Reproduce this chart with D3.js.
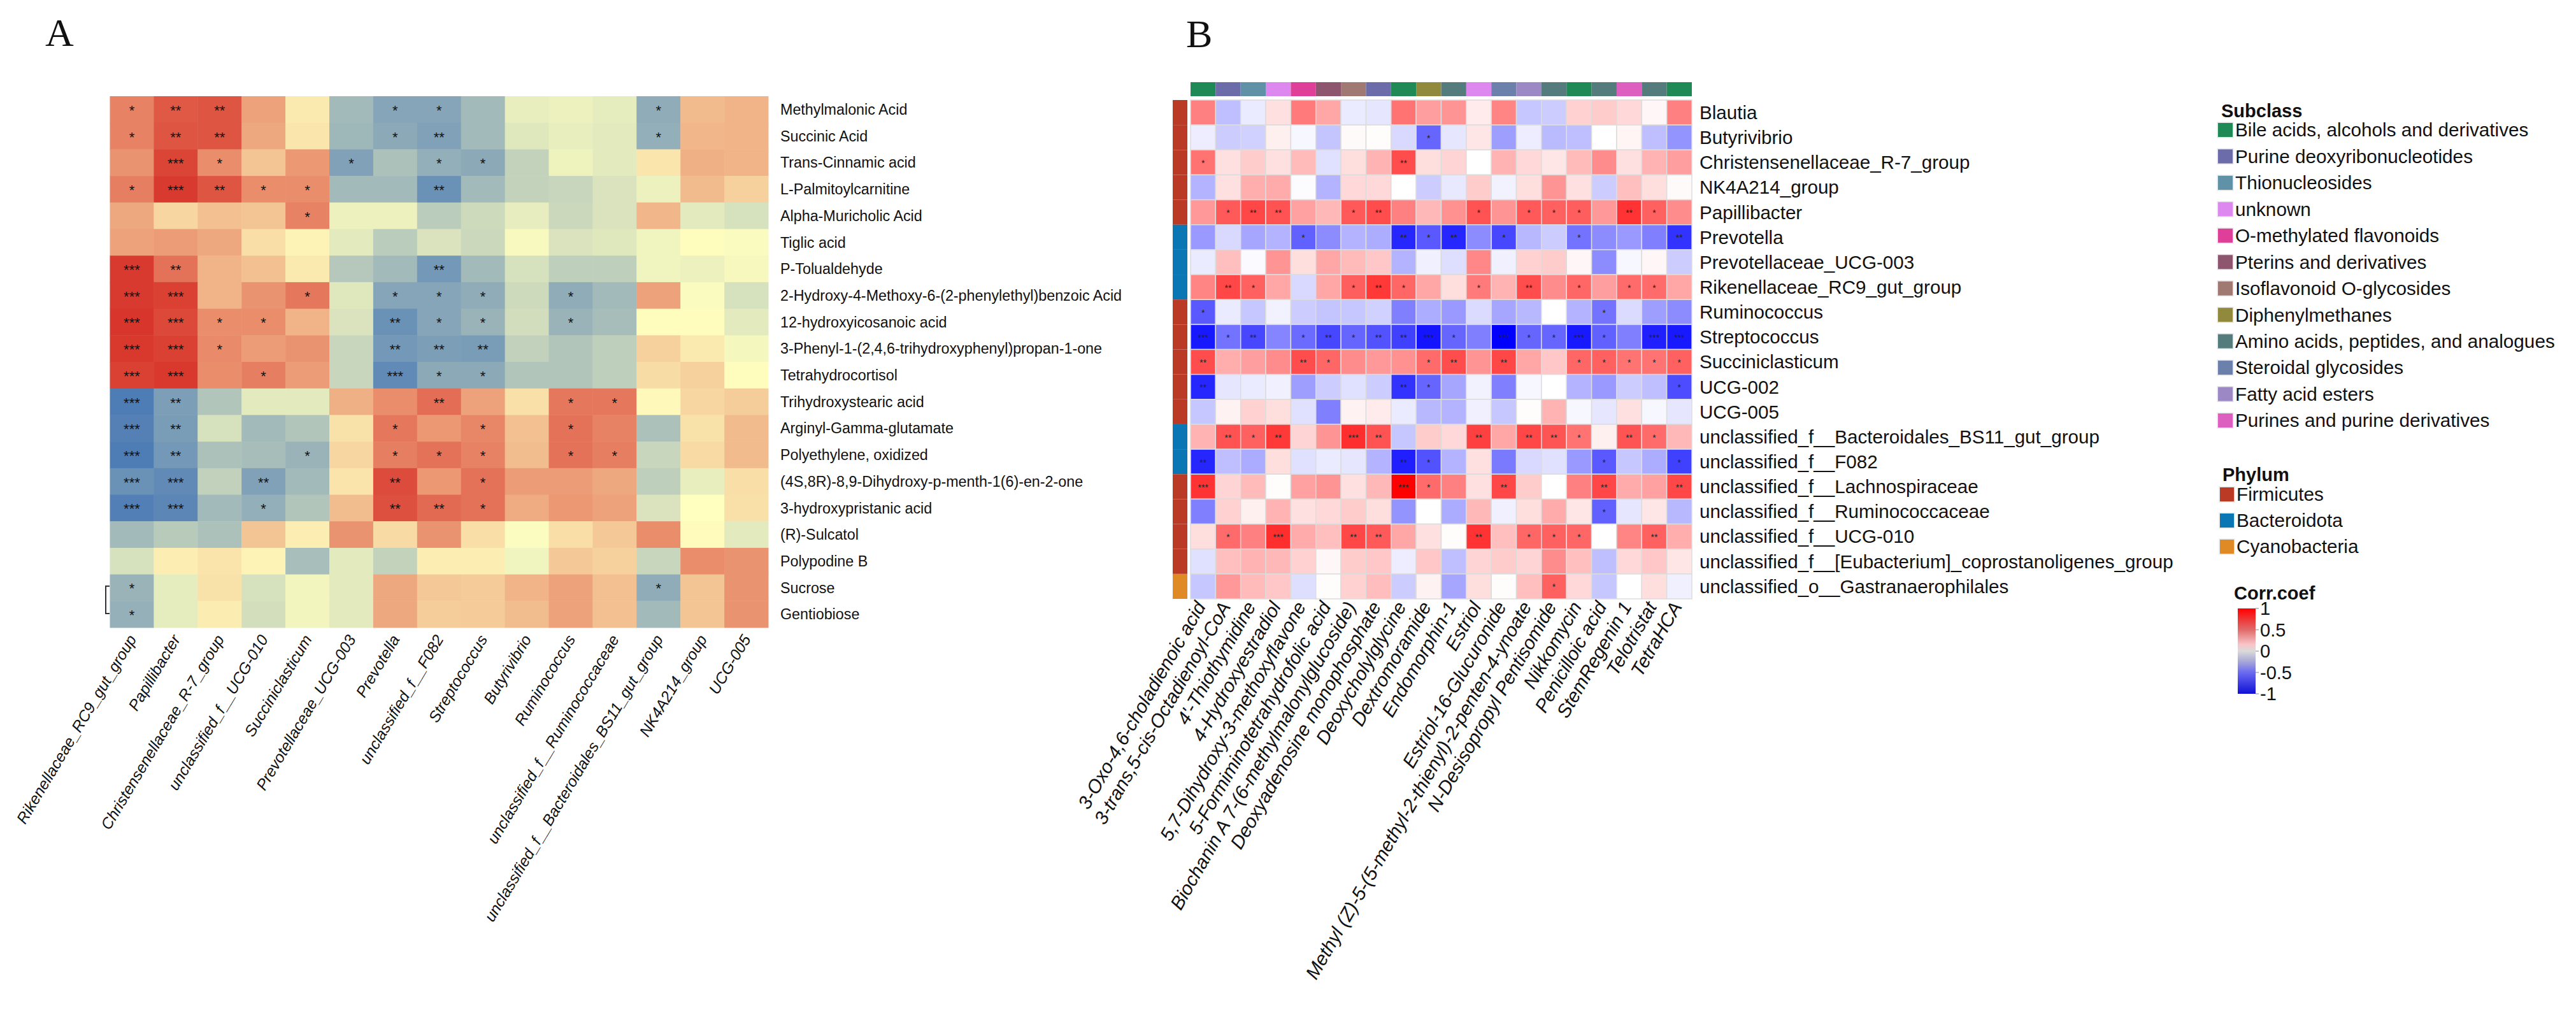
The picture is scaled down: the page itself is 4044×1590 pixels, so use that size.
<!DOCTYPE html>
<html><head><meta charset="utf-8">
<script src="https://cdnjs.cloudflare.com/ajax/libs/d3/7.8.5/d3.min.js"></script>
<style>html,body{margin:0;padding:0;background:#fff}svg{display:block}text{font-family:"Liberation Sans",Arial,sans-serif;fill:#111}</style>
</head><body><svg id="c" width="4044" height="1590"></svg>
<script>
const metabolitesA=["Methylmalonic Acid","Succinic Acid","Trans-Cinnamic acid","L-Palmitoylcarnitine","Alpha-Muricholic Acid","Tiglic acid","P-Tolualdehyde","2-Hydroxy-4-Methoxy-6-(2-phenylethyl)benzoic Acid","12-hydroxyicosanoic acid","3-Phenyl-1-(2,4,6-trihydroxyphenyl)propan-1-one","Tetrahydrocortisol","Trihydroxystearic acid","Arginyl-Gamma-glutamate","Polyethylene, oxidized","(4S,8R)-8,9-Dihydroxy-p-menth-1(6)-en-2-one","3-hydroxypristanic acid","(R)-Sulcatol","Polypodine B","Sucrose","Gentiobiose"];
const taxaA=["Rikenellaceae_RC9_gut_group","Papillibacter","Christensenellaceae_R-7_group","unclassified_f__UCG-010","Succiniclasticum","Prevotellaceae_UCG-003","Prevotella","unclassified_f__F082","Streptococcus","Butyrivibrio","Ruminococcus","unclassified_f__Ruminococcaceae","unclassified_f__Bacteroidales_BS11_gut_group","NK4A214_group","UCG-005"];
const valuesA=[
[.60,.80,.82,.45,.10,-.50,-.65,-.65,-.50,-.12,-.10,-.14,-.60,.33,.36],
[.60,.82,.82,.42,.12,-.52,-.62,-.68,-.50,-.17,-.12,-.15,-.58,.35,.36],
[.52,.90,.55,.28,.50,-.68,-.45,-.58,-.62,-.32,-.09,-.15,.12,.38,.36],
[.62,.95,.82,.55,.55,-.50,-.50,-.80,-.50,-.32,-.30,-.20,-.10,.33,.22],
[.42,.20,.30,.28,.60,-.10,-.10,-.37,-.27,-.13,-.28,-.20,.35,-.15,-.22],
[.45,.48,.42,.16,.06,-.15,-.37,-.20,-.28,-.04,-.20,-.17,-.08,.01,-.03],
[.95,.68,.36,.30,.10,-.40,-.50,-.75,-.50,-.22,-.35,-.35,-.08,-.10,-.05],
[.95,.92,.36,.52,.65,-.17,-.65,-.65,-.60,-.27,-.60,-.50,.45,-.03,-.22],
[.97,.88,.55,.55,.36,-.20,-.80,-.65,-.55,-.25,-.55,-.48,.01,.01,-.15],
[.96,.92,.56,.48,.52,-.30,-.75,-.70,-.72,-.33,-.42,-.35,.22,.10,-.06],
[.92,.96,.55,.62,.48,-.30,-.85,-.62,-.62,-.42,-.42,-.35,.17,.22,.01],
[-.95,-.70,-.42,-.15,-.15,.38,.55,.70,.45,.15,.65,.65,.03,.20,.24],
[-.92,-.72,-.22,-.50,-.42,.14,.65,.50,.58,.30,.68,.60,-.45,.14,.33],
[-.95,-.75,-.45,-.48,-.55,.20,.62,.68,.60,.32,.68,.62,-.30,.18,.33],
[-.80,-.85,-.33,-.68,-.50,.13,.87,.50,.68,.48,.48,.42,-.35,-.12,.16],
[-.93,-.88,-.50,-.58,-.42,.32,.85,.72,.68,.40,.50,.45,-.20,.00,.15],
[-.50,-.38,-.45,.28,.08,.52,.18,.52,.16,-.02,.16,.26,.55,.02,-.15],
[-.22,.08,.13,.06,-.47,-.15,-.32,.08,.08,-.08,.26,.22,-.30,.55,.52],
[-.55,-.14,.14,-.22,-.07,-.15,.42,.26,.25,.36,.45,.30,-.60,.28,.52],
[-.57,-.14,.09,-.24,-.07,-.15,.42,.24,.25,.32,.45,.30,-.50,.28,.52]];
const starsA=[
[1,2,2,0,0,0,1,1,0,0,0,0,1,0,0],
[1,2,2,0,0,0,1,2,0,0,0,0,1,0,0],
[0,3,1,0,0,1,0,1,1,0,0,0,0,0,0],
[1,3,2,1,1,0,0,2,0,0,0,0,0,0,0],
[0,0,0,0,1,0,0,0,0,0,0,0,0,0,0],
[0,0,0,0,0,0,0,0,0,0,0,0,0,0,0],
[3,2,0,0,0,0,0,2,0,0,0,0,0,0,0],
[3,3,0,0,1,0,1,1,1,0,1,0,0,0,0],
[3,3,1,1,0,0,2,1,1,0,1,0,0,0,0],
[3,3,1,0,0,0,2,2,2,0,0,0,0,0,0],
[3,3,0,1,0,0,3,1,1,0,0,0,0,0,0],
[3,2,0,0,0,0,0,2,0,0,1,1,0,0,0],
[3,2,0,0,0,0,1,0,1,0,1,0,0,0,0],
[3,2,0,0,1,0,1,1,1,0,1,1,0,0,0],
[3,3,0,2,0,0,2,0,1,0,0,0,0,0,0],
[3,3,0,1,0,0,2,2,1,0,0,0,0,0,0],
[0,0,0,0,0,0,0,0,0,0,0,0,0,0,0],
[0,0,0,0,0,0,0,0,0,0,0,0,0,0,0],
[1,0,0,0,0,0,0,0,0,0,0,0,1,0,0],
[1,0,0,0,0,0,0,0,0,0,0,0,0,0,0]];
const taxaB=["Blautia","Butyrivibrio","Christensenellaceae_R-7_group","NK4A214_group","Papillibacter","Prevotella","Prevotellaceae_UCG-003","Rikenellaceae_RC9_gut_group","Ruminococcus","Streptococcus","Succiniclasticum","UCG-002","UCG-005","unclassified_f__Bacteroidales_BS11_gut_group","unclassified_f__F082","unclassified_f__Lachnospiraceae","unclassified_f__Ruminococcaceae","unclassified_f__UCG-010","unclassified_f__[Eubacterium]_coprostanoligenes_group","unclassified_o__Gastranaerophilales"];
const metabolitesB=["3-Oxo-4,6-choladienoic acid","3-trans,5-cis-Octadienoyl-CoA","4'-Thiothymidine","4-Hydroxyestradiol","5,7-Dihydroxy-3-methoxyflavone","5-Formiminotetrahydrofolic acid","Biochanin A 7-(6-methylmalonylglucoside)","Deoxyadenosine monophosphate","Deoxycholylglycine","Dextromoramide","Endomorphin-1","Estriol","Estriol-16-Glucuronide","Methyl (Z)-5-(5-methyl-2-thienyl)-2-penten-4-ynoate","N-Desisopropyl Pentisomide","Nikkomycin","Penicilloic acid","StemRegenin 1","Telotristat","TetraHCA"];
const valuesB=[
[.5,-.25,-.08,.12,.52,.35,-.08,-.1,.55,.38,.42,.08,.48,-.22,-.2,.18,.2,.15,.03,.5],
[-.07,-.2,-.18,.06,-.03,-.23,.02,.01,-.15,-.6,-.1,.1,-.38,-.07,-.27,-.25,0,.04,-.25,-.42],
[.55,.12,.2,.12,.27,-.12,.13,.3,.7,.13,.17,0,.3,.15,.1,.27,.45,.12,.3,.38],
[-.3,.12,.32,.33,-.01,-.3,.15,.15,0,-.2,-.09,.2,-.05,.13,.42,.12,-.2,.25,.13,.02],
[.4,.65,.72,.68,.37,.28,.65,.7,.5,.28,.43,.68,.42,.65,.62,.63,.4,.8,.62,.45],
[-.4,-.15,-.35,-.3,-.62,-.45,-.3,-.32,-.85,-.65,-.85,-.45,-.72,-.28,-.2,-.55,-.45,-.4,-.5,-.8],
[-.08,.25,-.02,.42,.13,.35,.27,.22,-.3,-.06,-.13,.47,-.06,.18,.2,.03,-.45,-.03,.03,-.2],
[.48,.72,.62,.35,-.15,.35,.63,.78,.6,.35,.13,.52,.3,.7,.45,.6,.38,.58,.58,.35],
[-.65,-.08,-.22,-.05,-.2,-.23,-.22,-.18,-.5,-.32,-.4,-.14,-.35,-.28,0,-.3,-.55,-.14,-.38,-.45],
[-.9,-.55,-.72,-.48,-.58,-.72,-.6,-.68,-.75,-.92,-.6,-.5,-1,-.6,-.6,-.9,-.62,-.5,-.88,-.9],
[.7,.32,.38,.45,.7,.6,.45,.4,.43,.58,.7,.42,.72,.35,.22,.6,.62,.55,.55,.62],
[-.85,-.1,-.08,-.06,-.38,-.2,-.12,-.2,-.8,-.6,-.35,-.05,-.5,-.03,0,-.3,-.4,-.2,-.25,-.7],
[-.22,.05,.18,.13,-.12,-.5,.05,.08,-.08,-.28,-.3,-.06,-.22,.01,.3,-.03,-.1,.12,-.03,-.1],
[.3,.68,.62,.78,.17,.42,.82,.68,-.22,.2,.15,.75,.35,.72,.67,.55,.06,.67,.58,.28],
[-.85,-.25,-.33,.13,-.12,-.08,-.1,-.3,-.88,-.68,-.3,.12,-.52,-.15,-.12,-.4,-.65,-.22,-.32,-.75],
[.8,.17,.27,.01,.37,.42,.12,.28,1,.58,.5,.12,.72,.2,0,.5,.72,.33,.37,.72],
[-.5,.18,.06,.3,.12,.15,.2,.13,-.42,0,-.33,.28,-.06,.13,.33,.1,-.62,-.1,.1,-.28],
[.13,.58,.5,.82,.33,.25,.72,.65,.35,.12,.01,.8,.25,.6,.62,.6,0,.48,.62,.32],
[-.12,.25,.3,.28,.18,.03,.2,.22,-.07,.22,-.25,.17,.2,.17,.45,.25,-.25,.15,.22,.1],
[-.22,.4,.27,.22,-.13,.01,.18,.26,-.2,.05,-.35,.13,.01,.25,.62,.15,-.22,0,.13,-.06]];
const starsB=[
[0,0,0,0,0,0,0,0,0,0,0,0,0,0,0,0,0,0,0,0],
[0,0,0,0,0,0,0,0,0,1,0,0,0,0,0,0,0,0,0,0],
[1,0,0,0,0,0,0,0,2,0,0,0,0,0,0,0,0,0,0,0],
[0,0,0,0,0,0,0,0,0,0,0,0,0,0,0,0,0,0,0,0],
[0,1,2,2,0,0,1,2,0,0,0,1,0,1,1,1,0,2,1,0],
[0,0,0,0,1,0,0,0,2,1,2,0,1,0,0,1,0,0,0,2],
[0,0,0,0,0,0,0,0,0,0,0,0,0,0,0,0,0,0,0,0],
[0,2,1,0,0,0,1,2,1,0,0,1,0,2,0,1,0,1,1,0],
[1,0,0,0,0,0,0,0,0,0,0,0,0,0,0,0,1,0,0,0],
[3,1,2,0,1,2,1,2,2,3,1,0,3,1,1,3,1,0,3,3],
[2,0,0,0,2,1,0,0,0,1,2,0,2,0,0,1,1,1,1,1],
[2,0,0,0,0,0,0,0,2,1,0,0,0,0,0,0,0,0,0,1],
[0,0,0,0,0,0,0,0,0,0,0,0,0,0,0,0,0,0,0,0],
[0,2,1,2,0,0,3,2,0,0,0,2,0,2,2,1,0,2,1,0],
[2,0,0,0,0,0,0,0,2,1,0,0,0,0,0,0,1,0,0,1],
[3,0,0,0,0,0,0,0,3,1,0,0,2,0,0,0,2,0,0,2],
[0,0,0,0,0,0,0,0,0,0,0,0,0,0,0,0,1,0,0,0],
[0,1,0,3,0,0,2,2,0,0,0,2,0,1,1,1,0,0,2,0],
[0,0,0,0,0,0,0,0,0,0,0,0,0,0,0,0,0,0,0,0],
[0,0,0,0,0,0,0,0,0,0,0,0,0,0,1,0,0,0,0,0]];
const subclasses=["Bile acids, alcohols and derivatives","Purine deoxyribonucleotides","Thionucleosides","unknown","O-methylated flavonoids","Pterins and derivatives","Isoflavonoid O-glycosides","Diphenylmethanes","Amino acids, peptides, and analogues","Steroidal glycosides","Fatty acid esters","Purines and purine derivatives"];
const subclassColors=["#1f8a55","#6c6cab","#5f92a6","#dc88ee","#df3f98","#8e566e","#a07a72","#918a3c","#557c7c","#6c80ac","#9c88c4","#dd60c0"];
const subclassOfColumn=[0,1,2,3,4,5,6,1,0,7,8,3,9,10,8,0,8,11,8,0];
const phyla=["Firmicutes","Bacteroidota","Cyanobacteria"];
const phylumColors=["#bb3a26","#0a76b4","#e08a25"];
const phylumOfRow=[0,0,0,0,0,1,1,1,0,0,0,0,0,1,1,0,0,0,0,2];
const corrTicks=[1,0.5,0,-0.5,-1];

const svg=d3.select("#c");
const stars=n=>"*".repeat(n);
const colorA=d3.scaleLinear().domain([-1,0,1]).range(["#4575B4","#FFFFBF","#D73027"]);
const colorB=d3.scaleLinear().domain([-1,0,1]).range(["#0000ff","#ffffff","#ff0000"]);
function flat(v,s){return v.flatMap((r,i)=>r.map((d,j)=>({i,j,v:d,s:s[i][j]})));}

// panel letters
svg.append("text").attr("x",71).attr("y",72).style("font-family","'Liberation Serif',serif").style("font-size","62px").text("A");
svg.append("text").attr("x",1862).attr("y",74).style("font-family","'Liberation Serif',serif").style("font-size","62px").text("B");

// Panel A
const xA=d3.scaleBand().domain(d3.range(taxaA.length)).range([172.5,1206]);
const yA=d3.scaleBand().domain(d3.range(metabolitesA.length)).range([151,985]);
const gA=svg.append("g");
gA.selectAll("rect").data(flat(valuesA,starsA)).join("rect")
 .attr("x",d=>xA(d.j)).attr("y",d=>yA(d.i)).attr("width",xA.bandwidth()+.5).attr("height",yA.bandwidth()+.5)
 .attr("fill",d=>colorA(d.v));
gA.selectAll("text.s").data(flat(valuesA,starsA).filter(d=>d.s)).join("text").attr("class","s")
 .attr("x",d=>xA(d.j)+xA.bandwidth()/2).attr("y",d=>yA(d.i)+yA.bandwidth()/2+9).attr("text-anchor","middle")
 .style("font-size","22px").text(d=>stars(d.s));
gA.selectAll("text.r").data(metabolitesA).join("text").attr("class","r")
 .attr("x",1225).attr("y",(d,i)=>yA(i)+yA.bandwidth()/2).attr("dy","0.35em")
 .style("font-size","23.3px").text(d=>d);
gA.selectAll("text.c").data(taxaA).join("text").attr("class","c")
 .attr("transform",(d,i)=>`translate(${xA(i)+xA.bandwidth()/2+8},1003) rotate(-59)`)
 .attr("text-anchor","end").style("font-size","24.5px").style("font-style","italic").text(d=>d);
gA.append("path").attr("d",`M172,920H166V963H172`).attr("fill","none").attr("stroke","#333").attr("stroke-width",2);

// Panel B
const xB=d3.scaleBand().domain(d3.range(metabolitesB.length)).range([1869,2656]);
const yB=d3.scaleBand().domain(d3.range(taxaB.length)).range([157,940]);
const gB=svg.append("g");
gB.selectAll("rect.a").data(subclassOfColumn).join("rect").attr("class","a")
 .attr("x",(d,i)=>xB(i)).attr("y",129).attr("width",xB.bandwidth()).attr("height",22)
 .attr("fill",d=>subclassColors[d]);
gB.selectAll("rect.p").data(phylumOfRow).join("rect").attr("class","p")
 .attr("x",1841).attr("y",(d,i)=>yB(i)).attr("width",23).attr("height",yB.bandwidth())
 .attr("fill",d=>phylumColors[d]);
gB.selectAll("rect.h").data(flat(valuesB,starsB)).join("rect").attr("class","h")
 .attr("x",d=>xB(d.j)).attr("y",d=>yB(d.i)).attr("width",xB.bandwidth()).attr("height",yB.bandwidth())
 .attr("fill",d=>colorB(d.v)).attr("stroke","#dcdcdc").attr("stroke-width",1.5);
gB.selectAll("text.s").data(flat(valuesB,starsB).filter(d=>d.s)).join("text").attr("class","s")
 .attr("x",d=>xB(d.j)+xB.bandwidth()/2).attr("y",d=>yB(d.i)+yB.bandwidth()/2+6).attr("text-anchor","middle")
 .style("font-size","14px").style("fill","#222").text(d=>stars(d.s));
gB.selectAll("text.r").data(taxaB).join("text").attr("class","r")
 .attr("x",2668).attr("y",(d,i)=>yB(i)+yB.bandwidth()/2).attr("dy","0.35em")
 .style("font-size","29.6px").text(d=>d);
gB.selectAll("text.c").data(metabolitesB).join("text").attr("class","c")
 .attr("transform",(d,i)=>`translate(${xB(i)+xB.bandwidth()/2+5},952) rotate(-60)`)
 .attr("text-anchor","end").style("font-size","29.7px").style("font-style","italic").text(d=>d);

// Legends
const leg=svg.append("g");
leg.append("text").attr("x",3487).attr("y",184).style("font-size","29px").style("font-weight","bold").text("Subclass");
const ySub=d3.scalePoint().domain(d3.range(subclasses.length)).range([204,660]);
leg.selectAll("rect.sc").data(subclasses).join("rect").attr("class","sc")
 .attr("x",3482).attr("y",(d,i)=>ySub(i)-11).attr("width",23).attr("height",22).attr("fill",(d,i)=>subclassColors[i])
 .attr("stroke","#e4e4e4").attr("stroke-width",3).attr("paint-order","stroke");
leg.selectAll("text.sc").data(subclasses).join("text").attr("class","sc")
 .attr("x",3509).attr("y",(d,i)=>ySub(i)).attr("dy","0.35em").style("font-size","29.7px").text(d=>d);
leg.append("text").attr("x",3489).attr("y",755).style("font-size","29px").style("font-weight","bold").text("Phylum");
const yPhy=d3.scalePoint().domain(d3.range(phyla.length)).range([776,858]);
leg.selectAll("rect.ph").data(phyla).join("rect").attr("class","ph")
 .attr("x",3485).attr("y",(d,i)=>yPhy(i)-11).attr("width",22).attr("height",22).attr("fill",(d,i)=>phylumColors[i])
 .attr("stroke","#e4e4e4").attr("stroke-width",3).attr("paint-order","stroke");
leg.selectAll("text.ph").data(phyla).join("text").attr("class","ph")
 .attr("x",3511).attr("y",(d,i)=>yPhy(i)).attr("dy","0.35em").style("font-size","29.7px").text(d=>d);
leg.append("text").attr("x",3507).attr("y",941).style("font-size","29px").style("font-weight","bold").text("Corr.coef");
const yBar=d3.scaleLinear().domain([1,-1]).range([955,1089]);
const grad=svg.append("defs").append("linearGradient").attr("id","cb").attr("x1",0).attr("x2",0).attr("y1",0).attr("y2",1);
[[0,"#ff0000"],[.25,"#e06a6a"],[.42,"#f8c4c8"],[.5,"#dadada"],[.62,"#a8a8d8"],[.75,"#6a6af0"],[1,"#1010d8"]].forEach(s=>grad.append("stop").attr("offset",s[0]).attr("stop-color",s[1]));
leg.append("rect").attr("x",3513).attr("y",955).attr("width",28).attr("height",134).attr("fill","url(#cb)");
leg.selectAll("line.t").data(corrTicks).join("line").attr("class","t")
 .attr("x1",3541).attr("x2",3546).attr("y1",d=>yBar(d)).attr("y2",d=>yBar(d)).attr("stroke","#aaa").attr("stroke-width",1.5);
leg.selectAll("text.t").data(corrTicks).join("text").attr("class","t")
 .attr("x",3548).attr("y",d=>yBar(d)).attr("dy","0.35em").style("font-size","29px").text(d=>d);
</script></body></html>
